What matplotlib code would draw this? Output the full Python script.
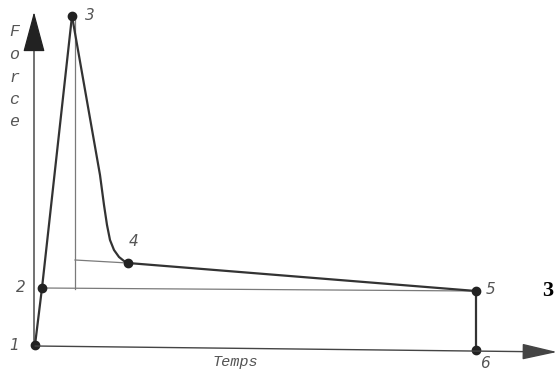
import numpy as np
import matplotlib.pyplot as plt

# force profile (arbitrary units, origin at point 1)
point_labels = ['1', '2', '3', '4', '5', '6']
temps = [0, 7, 37, 93, 441, 441]
force = [0, 57, 329, 82, 54, -5]

# drop from 3 down to 4 (curved part)
curve_t = [37, 65, 69, 72, 75, 79, 84, 89, 93]
curve_f = [329, 170, 140, 120, 105, 95, 88, 84, 82]

# construction lines
vline_t = [40, 40]
vline_f = [329, 56]
tang_t = [40, 93]
tang_f = [85, 82]

label_off = [(-21, 0), (-21, 0), (18, 1), (6, 22), (15, 1), (9, -13.5)]

dark = '#333333'
grey = '#7a7a7a'

fig = plt.figure(figsize=(5.6, 3.71), dpi=100)
ax = fig.add_axes([0, 0, 1, 1])
ax.set_xlim(-35, 525)
ax.set_ylim(-26, 345)
ax.axis('off')

# axes with arrows
ax.annotate('', xy=(-1, 333), xytext=(-1, 0),
            arrowprops=dict(arrowstyle='-|>,head_length=2.6,head_width=0.7',
                            color='#222222', lw=0.9, shrinkA=0, shrinkB=0))
ax.annotate('', xy=(522, -7), xytext=(0, -1),
            arrowprops=dict(arrowstyle='-|>,head_length=2.2,head_width=0.5',
                            color='#444444', lw=1.0, shrinkA=0, shrinkB=0))

# thin construction lines
ax.plot([temps[1], temps[4]], [force[1], force[4]], color=grey, lw=0.9)
ax.plot(vline_t, vline_f, color=grey, lw=0.9)
ax.plot(tang_t, tang_f, color=grey, lw=0.9)

# main curve
ax.plot(temps[:3], force[:3], color=dark, lw=1.6)
ax.plot(curve_t, curve_f, color=dark, lw=1.6, solid_joinstyle='round')
ax.plot(temps[3:], force[3:], color=dark, lw=1.6)
ax.plot(temps, force, 'o', color='#222222', ms=6, lw=0)

for lab, t, f, (dx, dy) in zip(point_labels, temps, force, label_off):
    ax.text(t + dx, f + dy, lab, fontsize=11, style='italic', color='#555555',
            ha='center', va='center', family='DejaVu Sans')

ax.text(200, -17, 'Temps', fontsize=11, style='italic', color='#555555',
        ha='center', va='center', family='Liberation Mono')
for i, ch in enumerate('Force'):
    ax.text(-21, 313 - i * 22.5, ch, fontsize=12, style='italic', color='#555555',
            ha='center', va='center', family='Liberation Mono')

ax.text(513, 54, '3', fontsize=16, weight='bold', color='black',
        ha='center', va='center', family='Liberation Serif')

fig.savefig('out.png', dpi=100)
